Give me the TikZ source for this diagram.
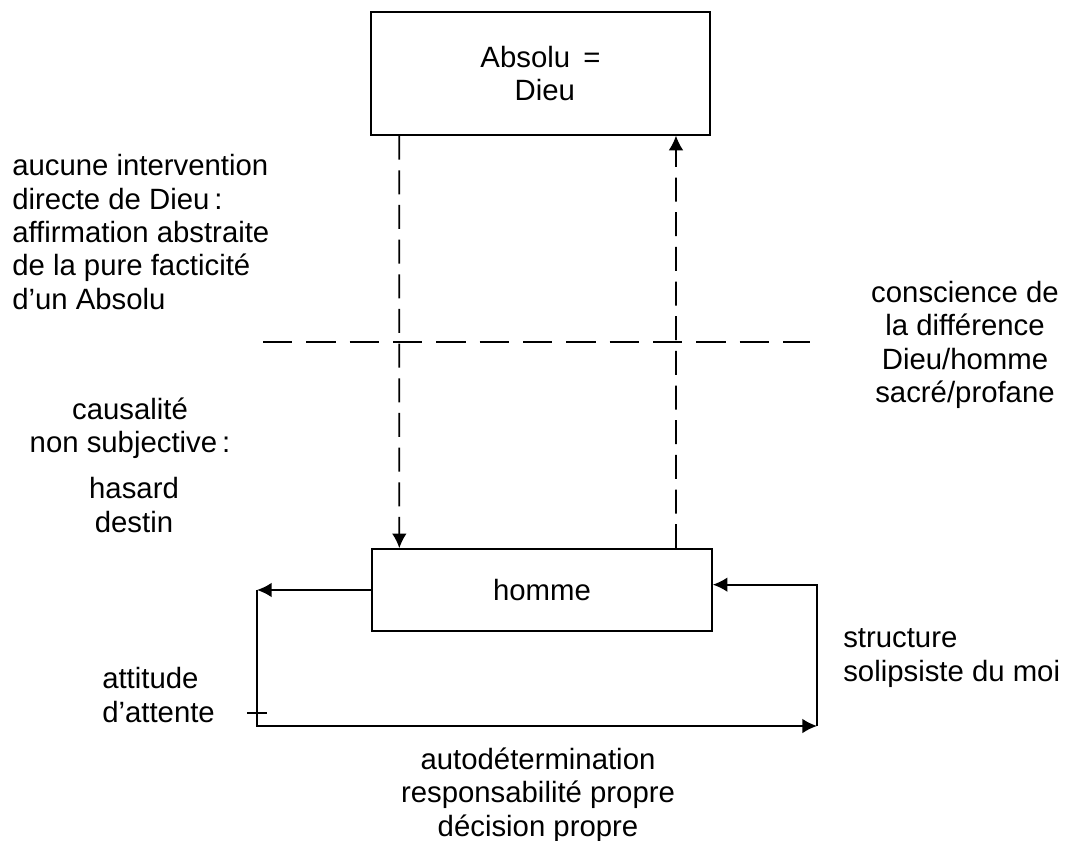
\documentclass[tikz,border=0pt]{standalone}
\usepackage{fontspec}
\setmainfont{Liberation Sans}
\usetikzlibrary{arrows.meta}

\tikzset{
  box/.style={draw, line width=1.2pt, inner sep=0pt},
  lbl/.style={font=\fontsize{22}{25}\selectfont, inner sep=0pt},
  arr/.style={line width=1.3pt, -{Latex[length=11pt,width=11pt]}},
  hdash/.style={line width=1.3pt, dash pattern=on 22pt off 10.5pt},
  vdash/.style={line width=1.3pt, dash pattern=on 18pt off 8pt},
}

\begin{document}
\begin{tikzpicture}[x=0.75pt, y=-0.75pt]
  \useasboundingbox (0,0) rectangle (1067,841);
  % boxes
  \node[box, lbl, align=center, minimum width=254pt, minimum height=92pt] (absolu) at (540.5,73.5) {Absolu\hspace{0.45em}=\\\hspace*{0.3em}Dieu};
  \node[box, lbl, minimum width=255pt, minimum height=61.5pt] (homme) at (542,590) {homme};
  % labels
  \node[lbl, anchor=west, align=left] (intervention) at (12,232) {aucune intervention\\directe de Dieu\,:\\affirmation abstraite\\de la pure facticité\\d’un Absolu};
  \node[lbl, align=center] (causal) at (130,428) {causalité\\non subjective\,:};
  \node[lbl, align=center] (hasard) at (134,505) {hasard\\destin};
  \node[lbl, align=center] (conscience) at (965,345) {conscience de\\la différence\\Dieu/homme\\sacré/profane};
  \node[lbl, anchor=west, align=left] (structure) at (843,658) {structure\\solipsiste du moi};
  \node[lbl, anchor=west, align=left] (attente) at (102,695) {attitude\\d’attente};
  \node[lbl, align=center] (auto) at (538,795) {autodétermination\\responsabilité propre\\décision propre};
  % loop corners
  \coordinate (lcorner) at (257,590);
  \coordinate (rcorner) at (817,726);
  % dashed links
  \draw[hdash] (263,342) -- (810,342);
  \draw[arr, vdash] ([xshift=-106pt]absolu.south) -- ([xshift=-107pt]homme.north);
  \draw[arr, vdash] ([xshift=100.5pt]homme.north) -- ([xshift=101.6pt]absolu.south);
  % loop
  \draw[arr] (homme.west) -- (lcorner);
  \draw[arr] (lcorner) |- (rcorner);
  \draw[arr] (rcorner) |- ([yshift=4pt]homme.east);
  \draw[line width=1.3pt] (247,713) -- (267,713);
\end{tikzpicture}
\end{document}
